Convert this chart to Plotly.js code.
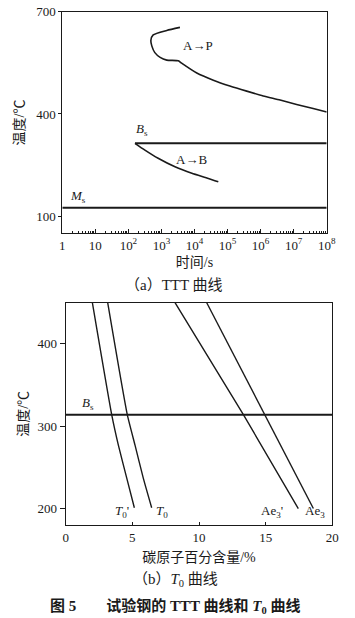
<!DOCTYPE html>
<html>
<head>
<meta charset="utf-8">
<script src="https://cdn.plot.ly/plotly-3.0.1.min.js"></script>
<style>html,body{margin:0;padding:0;background:#fff;}</style>
</head>
<body>
<div id="chart" style="width:355px;height:618px;"></div>
<script>
// ---------- (a) TTT curve data ----------
const pearliteTime = [3630, 1445, 562, 479, 513, 631, 912, 1445, 3236, 4070, 11750, 37150, 117500, 380000, 1.2e6, 3.9e6, 1.23e7, 3.9e7, 1e8];
const pearliteTemp = [654, 645, 632, 616, 599, 580, 566, 558, 556, 549, 520, 499, 482, 467, 453, 441, 428, 416, 406];
const bainiteTime = [158, 316, 794, 2570, 8300, 26300, 52500];
const bainiteTemp = [314, 294, 270, 245, 226, 211, 201];
const bsStartTime = 158;
const BS = 314;   // bainite start temperature
const MS = 125;   // martensite start temperature
const timeTickVals = [1, 10, 1e2, 1e3, 1e4, 1e5, 1e6, 1e7, 1e8];
const timeTickText = ['1', '10', '10<sup>2</sup>', '10<sup>3</sup>', '10<sup>4</sup>', '10<sup>5</sup>', '10<sup>6</sup>', '10<sup>7</sup>', '10<sup>8</sup>'];
const tempTicksA = [100, 400, 700];

// ---------- (b) T0 curve data ----------
const carbonT0p = [2.0, 3.45, 3.95, 4.58, 5.15];
const tempT0p   = [450, 314, 277, 237, 201];
const carbonT0  = [3.15, 4.62, 5.2, 5.82, 6.45];
const tempT0    = [450, 314, 277, 237, 201];
const carbonAe3p = [8.2, 13.33, 17.45];
const tempAe3p   = [450, 314, 200];
const carbonAe3  = [10.58, 14.95, 18.58];
const tempAe3    = [450, 314, 200];
const carbonTicks = [0, 5, 10, 15, 20];
const tempTicksB = [200, 300, 400];

// minor ticks for the log axis (2..9 in each decade)
const minorVals = [];
for (let k = 0; k < 8; k++) for (let m = 2; m <= 9; m++) minorVals.push(m * Math.pow(10, k));

const FONT = '"Liberation Serif", "Noto Sans CJK SC", serif';
const INK = '#1a1a1a';
const line = (w) => ({color: INK, width: w});

const traces = [
  {x: pearliteTime, y: pearliteTemp, xaxis: 'x', yaxis: 'y', mode: 'lines', line: Object.assign(line(1.6), {shape: 'spline', smoothing: 0.6})},
  {x: bainiteTime, y: bainiteTemp, xaxis: 'x', yaxis: 'y', mode: 'lines', line: Object.assign(line(1.6), {shape: 'spline', smoothing: 0.6})},
  {x: [bsStartTime, timeTickVals[timeTickVals.length - 1]], y: [BS, BS], xaxis: 'x', yaxis: 'y', mode: 'lines', line: line(2)},
  {x: [timeTickVals[0], timeTickVals[timeTickVals.length - 1]], y: [MS, MS], xaxis: 'x', yaxis: 'y', mode: 'lines', line: line(2)},

  {x: carbonT0p, y: tempT0p, xaxis: 'x2', yaxis: 'y2', mode: 'lines', line: Object.assign(line(1.4), {shape: 'spline', smoothing: 0.5})},
  {x: carbonT0, y: tempT0, xaxis: 'x2', yaxis: 'y2', mode: 'lines', line: Object.assign(line(1.4), {shape: 'spline', smoothing: 0.5})},
  {x: carbonAe3p, y: tempAe3p, xaxis: 'x2', yaxis: 'y2', mode: 'lines', line: line(1.4)},
  {x: carbonAe3, y: tempAe3, xaxis: 'x2', yaxis: 'y2', mode: 'lines', line: line(1.4)},
  {x: [carbonTicks[0], carbonTicks[carbonTicks.length - 1]], y: [BS, BS], xaxis: 'x2', yaxis: 'y2', mode: 'lines', line: line(2)}
];

const W = 355, H = 618;
const axisCommon = {
  showline: true, linecolor: INK, linewidth: 1, mirror: true,
  showgrid: false, zeroline: false, tickcolor: INK, tickwidth: 1,
  tickfont: {family: FONT, size: 13, color: INK}, fixedrange: true
};
const titleFont = {family: FONT, size: 14, color: INK};

const layout = {
  width: W, height: H,
  margin: {l: 0, r: 0, t: 0, b: 0},
  paper_bgcolor: '#fff', plot_bgcolor: '#fff',
  showlegend: false,
  font: {family: FONT, color: INK, size: 13},
  xaxis: Object.assign({}, axisCommon, {
    type: 'log', range: [0, 8], domain: [62.3 / W, 326.7 / W], anchor: 'y',
    tickmode: 'array', tickvals: timeTickVals, ticktext: timeTickText,
    ticks: 'inside', ticklen: 4,
    minor: {ticks: 'inside', ticklen: 2, tickcolor: INK, tickmode: 'array', tickvals: minorVals, showgrid: false},
    title: {text: '时间/s', font: titleFont, standoff: 5}
  }),
  yaxis: Object.assign({}, axisCommon, {
    range: [50, 700], domain: [1 - 233.3 / H, 1 - 11.7 / H], anchor: 'x',
    tickmode: 'array', tickvals: tempTicksA, ticks: 'outside', ticklen: 3,
    title: {text: '温度/℃', font: titleFont, standoff: 8}
  }),
  xaxis2: Object.assign({}, axisCommon, {
    range: [0, 20], domain: [65.7 / W, 332.3 / W], anchor: 'y2',
    tickmode: 'array', tickvals: carbonTicks, ticks: 'inside', ticklen: 3,
    title: {text: '碳原子百分含量/%', font: titleFont, standoff: 8}
  }),
  yaxis2: Object.assign({}, axisCommon, {
    range: [180, 450], domain: [1 - 525 / H, 1 - 302.7 / H], anchor: 'x2',
    tickmode: 'array', tickvals: tempTicksB, ticks: 'outside', ticklen: 5,
    title: {text: '温度/℃', font: titleFont, standoff: 5}
  }),
  annotations: [
    {xref: 'x', yref: 'y', x: 4.1, y: 602, text: 'A→P'},
    {xref: 'x', yref: 'y', x: 3.92, y: 267, text: 'A→B'},
    {xref: 'x', yref: 'y', x: 2.41, y: 353, text: '<i>B</i><sub>s</sub>'},
    {xref: 'x', yref: 'y', x: 0.48, y: 157, text: '<i>M</i><sub>s</sub>'},
    {xref: 'x2', yref: 'y2', x: 1.7, y: 327, text: '<i>B</i><sub>s</sub>'},
    {xref: 'x2', yref: 'y2', x: 4.2, y: 196, text: "<i>T</i><sub>0</sub>'"},
    {xref: 'x2', yref: 'y2', x: 7.2, y: 196, text: '<i>T</i><sub>0</sub>'},
    {xref: 'x2', yref: 'y2', x: 15.45, y: 197, text: "Ae<sub>3</sub>'"},
    {xref: 'x2', yref: 'y2', x: 18.7, y: 196, text: 'Ae<sub>3</sub>'},
    {xref: 'paper', yref: 'paper', x: 174 / W, y: 1 - 285 / H, text: '（a）TTT 曲线', font: {size: 15}},
    {xref: 'paper', yref: 'paper', x: 175 / W, y: 1 - 580 / H, text: '（b）<i>T</i><sub>0</sub> 曲线', font: {size: 15}},
    {xref: 'paper', yref: 'paper', x: 175 / W, y: 1 - 606.7 / H, text: '<b>图 5　　试验钢的 TTT 曲线和 <i>T</i><sub>0</sub> 曲线</b>', font: {size: 15}}
  ].map(a => Object.assign({showarrow: false, xanchor: 'center', yanchor: 'middle', font: {size: 13}}, a))
};

Plotly.newPlot('chart', traces, layout, {staticPlot: true, displayModeBar: false});
</script>
</body>
</html>
